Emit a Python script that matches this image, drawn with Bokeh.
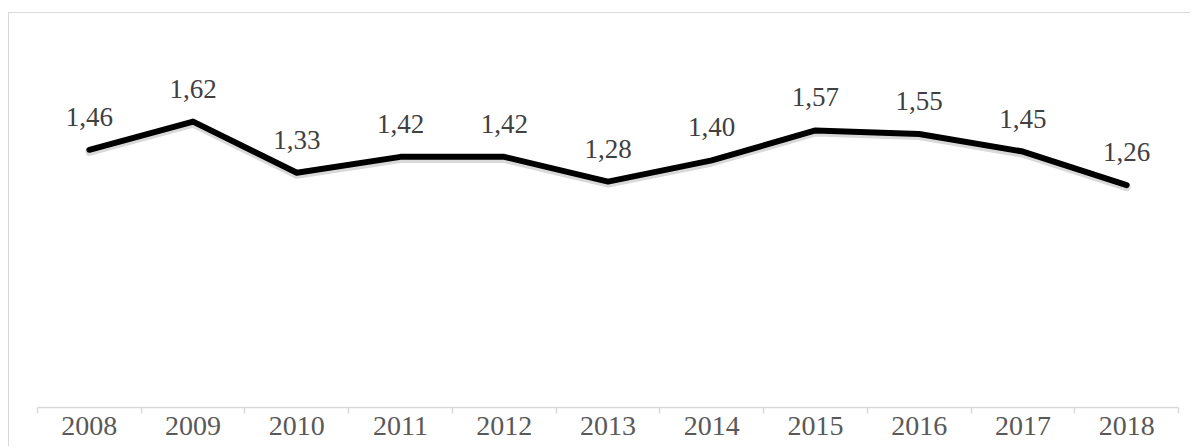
from bokeh.plotting import figure
from bokeh.models import FixedTicker, Range1d, ColumnDataSource, LabelSet
from bokeh.embed import file_html
from bokeh.resources import INLINE

years = ["2008", "2009", "2010", "2011", "2012", "2013", "2014", "2015", "2016", "2017", "2018"]
values = [1.46, 1.62, 1.33, 1.42, 1.42, 1.28, 1.40, 1.57, 1.55, 1.45, 1.26]
labels = ["1,46", "1,62", "1,33", "1,42", "1,42", "1,28", "1,40", "1,57", "1,55", "1,45", "1,26"]

xs = [i + 0.5 for i in range(len(years))]
src = ColumnDataSource(dict(x=xs, y=values, lab=labels,
                            ys=[v - 0.012 for v in values]))

p = figure(width=1182, height=434, output_backend="svg", toolbar_location=None,
           x_range=Range1d(0, len(years)), y_range=Range1d(0, 2),
           min_border_left=28, min_border_right=13, min_border_top=41, min_border_bottom=40,
           margin=(12, 0, 0, 8))
p.styles = {"border-left": "1.5px solid #d9d9d9", "border-top": "1.5px solid #d9d9d9"}
p.outline_line_color = None
p.background_fill_color = "white"
p.border_fill_color = "white"
p.grid.visible = False
p.yaxis.visible = False

ax = p.xaxis[0]
ax.ticker = FixedTicker(ticks=xs, minor_ticks=list(range(len(years) + 1)))
ax.major_label_overrides = {x: y for x, y in zip(xs, years)}
ax.major_tick_line_color = None
ax.minor_tick_line_color = "#d9d9d9"
ax.minor_tick_line_width = 1.5
ax.minor_tick_in = 0
ax.minor_tick_out = 6
ax.axis_line_color = "#d9d9d9"
ax.axis_line_width = 1.5
ax.major_label_text_font = "Liberation Serif"
ax.major_label_text_font_size = "28px"
ax.major_label_text_color = "#595959"
ax.major_label_standoff = 3

p.line("x", "ys", source=src, line_color="black", line_alpha=0.15, line_width=8,
       line_join="round", line_cap="round")
p.line("x", "y", source=src, line_color="black", line_width=6,
       line_join="round", line_cap="round")

p.add_layout(LabelSet(x="x", y="y", text="lab", source=src, text_align="center",
                      text_baseline="alphabetic", y_offset=24,
                      text_font="Liberation Serif", text_font_size="27px", text_color="#404040"))

open("out.html", "w").write(file_html(p, INLINE))
